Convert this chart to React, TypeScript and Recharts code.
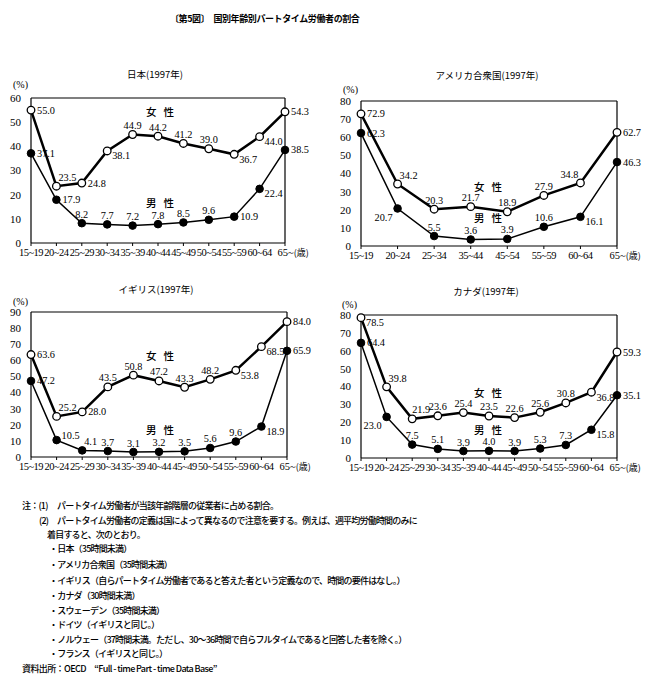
import React from "react";
import { LineChart, Line, XAxis, YAxis, ReferenceLine, LabelList } from "recharts";

const CJK = '"Noto Sans CJK JP", sans-serif';
const SERIF = '"Liberation Serif", "DejaVu Serif", serif';

// age groups
const ages11 = ["15~19", "20~24", "25~29", "30~34", "35~39", "40~44", "45~49", "50~54", "55~59", "60~64", "65~"];
const agesUs = ["15~19", "20~24", "25~34", "35~44", "45~54", "55~59", "60~64", "65~"];

// 日本
const jpFemale = [55.0, 23.5, 24.8, 38.1, 44.9, 44.2, 41.2, 39.0, 36.7, 44.0, 54.3];
const jpMale = [37.1, 17.9, 8.2, 7.7, 7.2, 7.8, 8.5, 9.6, 10.9, 22.4, 38.5];
const jpTicks = [0, 10, 20, 30, 40, 50, 60];

// アメリカ合衆国
const usFemale = [72.9, 34.2, 20.3, 21.7, 18.9, 27.9, 34.8, 62.7];
const usMale = [62.3, 20.7, 5.5, 3.6, 3.9, 10.6, 16.1, 46.3];
const usTicks = [0, 10, 20, 30, 40, 50, 60, 70, 80];

// イギリス
const ukFemale = [63.6, 25.2, 28.0, 43.5, 50.8, 47.2, 43.3, 48.2, 53.8, 68.5, 84.0];
const ukMale = [47.2, 10.5, 4.1, 3.7, 3.1, 3.2, 3.5, 5.6, 9.6, 18.9, 65.9];
const ukTicks = [0, 10, 20, 30, 40, 50, 60, 70, 80, 90];

// カナダ
const caFemale = [78.5, 39.8, 21.9, 23.6, 25.4, 23.5, 22.6, 25.6, 30.8, 36.8, 59.3];
const caMale = [64.4, 23.0, 7.5, 5.1, 3.9, 4.0, 3.9, 5.3, 7.3, 15.8, 35.1];
const caTicks = [0, 10, 20, 30, 40, 50, 60, 70, 80];

// where each value label sits relative to its point
const jpFemalePos = ["r", "tr", "r", "rb", "t", "t", "t", "t", "rb", "rb", "r"];
const jpMalePos = ["r", "r", "t", "t", "t", "t", "t", "t", "r", "rb", "r"];
const usFemalePos = ["r", "tr", "t", "t", "t", "t", "tl", "r"];
const usMalePos = ["r", "bl", "t", "t", "t", "t", "rb", "r"];
const ukFemalePos = ["r", "tr", "r", "t", "t", "t", "t", "t", "rb", "rb", "r"];
const ukMalePos = ["r", "rt", "tr", "t", "t", "t", "t", "t", "t", "rb", "r"];
const caFemalePos = ["rb", "tr", "tn", "t", "t", "t", "t", "t", "t", "rb", "r"];
const caMalePos = ["r", "bl", "t", "t", "t", "t", "t", "t", "t", "rb", "r"];

const notes = [
  "・日本（35時間未満）",
  "・アメリカ合衆国（35時間未満）",
  "・イギリス（自らパートタイム労働者であると答えた者という定義なので、時間の要件はなし。）",
  "・カナダ（30時間未満）",
  "・スウェーデン（35時間未満）",
  "・ドイツ（イギリスと同じ。）",
  "・ノルウェー（37時間未満。ただし、30〜36時間で自らフルタイムであると回答した者を除く。）",
  "・フランス（イギリスと同じ。）",
];

const offsets: Record<string, [number, number, string]> = {
  r: [6, 3.5, "start"],
  rb: [5, 8.5, "start"],
  rt: [5, -1.5, "start"],
  tr: [2, -5, "start"],
  tn: [0, -5.5, "start"],
  t: [0, -5.5, "middle"],
  tl: [-2, -5, "end"],
  bl: [-5, 12.5, "end"],
};

const makeLabel = (pos: string[]) => (p: any) => {
  const x = p.x ?? p.viewBox?.x;
  const y = p.y ?? p.viewBox?.y;
  const [dx, dy, anchor] = offsets[pos[p.index]] || offsets.r;
  return (
    <text x={x + dx} y={y + dy} textAnchor={anchor as any} fontSize={10.3} fontFamily={SERIF} fill="#000">
      {Number(p.value).toFixed(1)}
    </text>
  );
};

function AgeTick(props: any) {
  const { x, y, payload, last } = props;
  if (payload.value === last) {
    return (
      <text x={x - 7.5} y={y} dy="0.71em" textAnchor="start" fontSize={10.5} fontFamily={SERIF} fill="#000">
        {payload.value}
        <tspan fontFamily={CJK} fontSize={9}>(歳)</tspan>
      </text>
    );
  }
  return (
    <text x={x} y={y} dy="0.71em" textAnchor="middle" fontSize={10.5} fontFamily={SERIF} fill="#000" letterSpacing={-0.5}>
      {payload.value}
    </text>
  );
}

function Panel(props: any) {
  const { left, top, width, height, margin, yWidth, cats, female, male, fPos, mPos, ticks } = props;
  const data = cats.map((c: string, i: number) => ({ age: c, female: female[i], male: male[i] }));
  const yMax = ticks[ticks.length - 1];
  const last = cats[cats.length - 1];
  return (
    <div style={{ position: "absolute", left, top, width, height }}>
      <LineChart width={width} height={height} data={data} margin={margin}>
        <XAxis
          dataKey="age"
          scale="point"
          padding={{ left: 0, right: 0 }}
          interval={0}
          height={20}
          tick={<AgeTick last={last} />}
          tickSize={3}
          tickMargin={3}
          axisLine={{ stroke: "#000", strokeWidth: 1.2 }}
          tickLine={{ stroke: "#000" }}
        />
        <YAxis
          type="number"
          domain={[0, yMax]}
          ticks={ticks}
          interval={0}
          width={yWidth}
          tick={{ fontSize: 11, fill: "#000", fontFamily: SERIF }}
          tickLine={false}
          tickMargin={4}
          axisLine={{ stroke: "#000", strokeWidth: 1.2 }}
        />
        <ReferenceLine y={yMax} stroke="#000" strokeWidth={1.2} />
        <ReferenceLine x={last} stroke="#000" strokeWidth={1.2} />
        <Line
          dataKey="male"
          stroke="#000"
          strokeWidth={1.5}
          dot={{ r: 3.8, fill: "#000", stroke: "#000", strokeWidth: 1 }}
          isAnimationActive={false}
        >
          <LabelList dataKey="male" content={makeLabel(mPos)} />
        </Line>
        <Line
          dataKey="female"
          stroke="#000"
          strokeWidth={2.5}
          dot={{ r: 3.8, fill: "#fff", stroke: "#000", strokeWidth: 1.3 }}
          isAnimationActive={false}
        >
          <LabelList dataKey="female" content={makeLabel(fPos)} />
        </Line>
      </LineChart>
    </div>
  );
}

function Txt({ x, y, children, center, size = 10, bold, spacing, font = CJK, weight }: any) {
  return (
    <div
      style={{
        position: "absolute",
        left: x,
        top: y,
        transform: center ? "translate(-50%,-50%)" : "translateY(-50%)",
        whiteSpace: "nowrap",
        fontSize: size,
        fontFamily: font,
        fontWeight: weight ?? (bold ? 700 : 400),
        letterSpacing: spacing,
        lineHeight: 1,
        color: "#000",
      }}
    >
      {children}
    </div>
  );
}

const sexStyle = { size: 10.5, weight: 500 };
const noteStyle = { size: 9, spacing: -0.8, weight: 500 };

export default function App() {
  const noteY = [505, 520, 534, 548, 564, 580, 595, 610, 624, 639, 653, 668];
  return (
    <div style={{ position: "absolute", left: 0, top: 0, width: 655, height: 690, background: "#fff", overflow: "hidden" }}>
      <Txt x={170} y={18} size={9} bold spacing={-0.4}>
        〔第5図〕　国別年齢別パートタイム労働者の割合
      </Txt>

      {/* 日本 */}
      <Txt x={155} y={75} center size={9.5}>日本(1997年)</Txt>
      <Txt x={13} y={85} size={10} font={SERIF}>(%)</Txt>
      <Panel left={0} top={90} width={330} height={180} margin={{ top: 8, right: 45, left: 0, bottom: 7 }} yWidth={31}
        cats={ages11} female={jpFemale} male={jpMale} fPos={jpFemalePos} mPos={jpMalePos} ticks={jpTicks} />
      <Txt x={160} y={112} center {...sexStyle}>女&nbsp;&nbsp;&nbsp;性</Txt>
      <Txt x={160} y={203} center {...sexStyle}>男&nbsp;&nbsp;&nbsp;性</Txt>

      {/* アメリカ合衆国 */}
      <Txt x={487} y={76} center size={9.5}>アメリカ合衆国(1997年)</Txt>
      <Txt x={343} y={90} size={10} font={SERIF}>(%)</Txt>
      <Panel left={325} top={90} width={330} height={180} margin={{ top: 11, right: 38, left: 0, bottom: 4 }} yWidth={36}
        cats={agesUs} female={usFemale} male={usMale} fPos={usFemalePos} mPos={usMalePos} ticks={usTicks} />
      <Txt x={488} y={187} center {...sexStyle}>女&nbsp;&nbsp;&nbsp;性</Txt>
      <Txt x={488} y={218} center {...sexStyle}>男&nbsp;&nbsp;&nbsp;性</Txt>

      {/* イギリス */}
      <Txt x={156} y={290} center size={9.5}>イギリス(1997年)</Txt>
      <Txt x={13} y={302} size={10} font={SERIF}>(%)</Txt>
      <Panel left={0} top={300} width={330} height={180} margin={{ top: 12, right: 43, left: 0, bottom: 3 }} yWidth={31}
        cats={ages11} female={ukFemale} male={ukMale} fPos={ukFemalePos} mPos={ukMalePos} ticks={ukTicks} />
      <Txt x={160} y={356} center {...sexStyle}>女&nbsp;&nbsp;&nbsp;性</Txt>
      <Txt x={160} y={430} center {...sexStyle}>男&nbsp;&nbsp;&nbsp;性</Txt>

      {/* カナダ */}
      <Txt x={486} y={292} center size={9.5}>カナダ(1997年)</Txt>
      <Txt x={342} y={305} size={10} font={SERIF}>(%)</Txt>
      <Panel left={325} top={300} width={330} height={180} margin={{ top: 15, right: 38, left: 0, bottom: 2 }} yWidth={36}
        cats={ages11} female={caFemale} male={caMale} fPos={caFemalePos} mPos={caMalePos} ticks={caTicks} />
      <Txt x={488} y={393} center {...sexStyle}>女&nbsp;&nbsp;&nbsp;性</Txt>
      <Txt x={488} y={430} center {...sexStyle}>男&nbsp;&nbsp;&nbsp;性</Txt>

      {/* notes */}
      <Txt x={22} y={noteY[0]} {...noteStyle}>注：(1)</Txt>
      <Txt x={57} y={noteY[0]} {...noteStyle}>パートタイム労働者が当該年齢階層の従業者に占める割合。</Txt>
      <Txt x={39} y={noteY[1]} {...noteStyle}>(2)</Txt>
      <Txt x={57} y={noteY[1]} {...noteStyle}>パートタイム労働者の定義は国によって異なるので注意を要する。例えば、週平均労働時間のみに</Txt>
      <Txt x={47} y={noteY[2]} {...noteStyle}>着目すると、次のとおり。</Txt>
      {notes.map((n, i) => (
        <Txt key={i} x={49} y={noteY[i + 3]} {...noteStyle}>{n}</Txt>
      ))}
      <Txt x={22} y={noteY[11]} {...noteStyle} spacing={-0.6}>
        資料出所：OECD　“Full - time Part - time Data Base”
      </Txt>
    </div>
  );
}
